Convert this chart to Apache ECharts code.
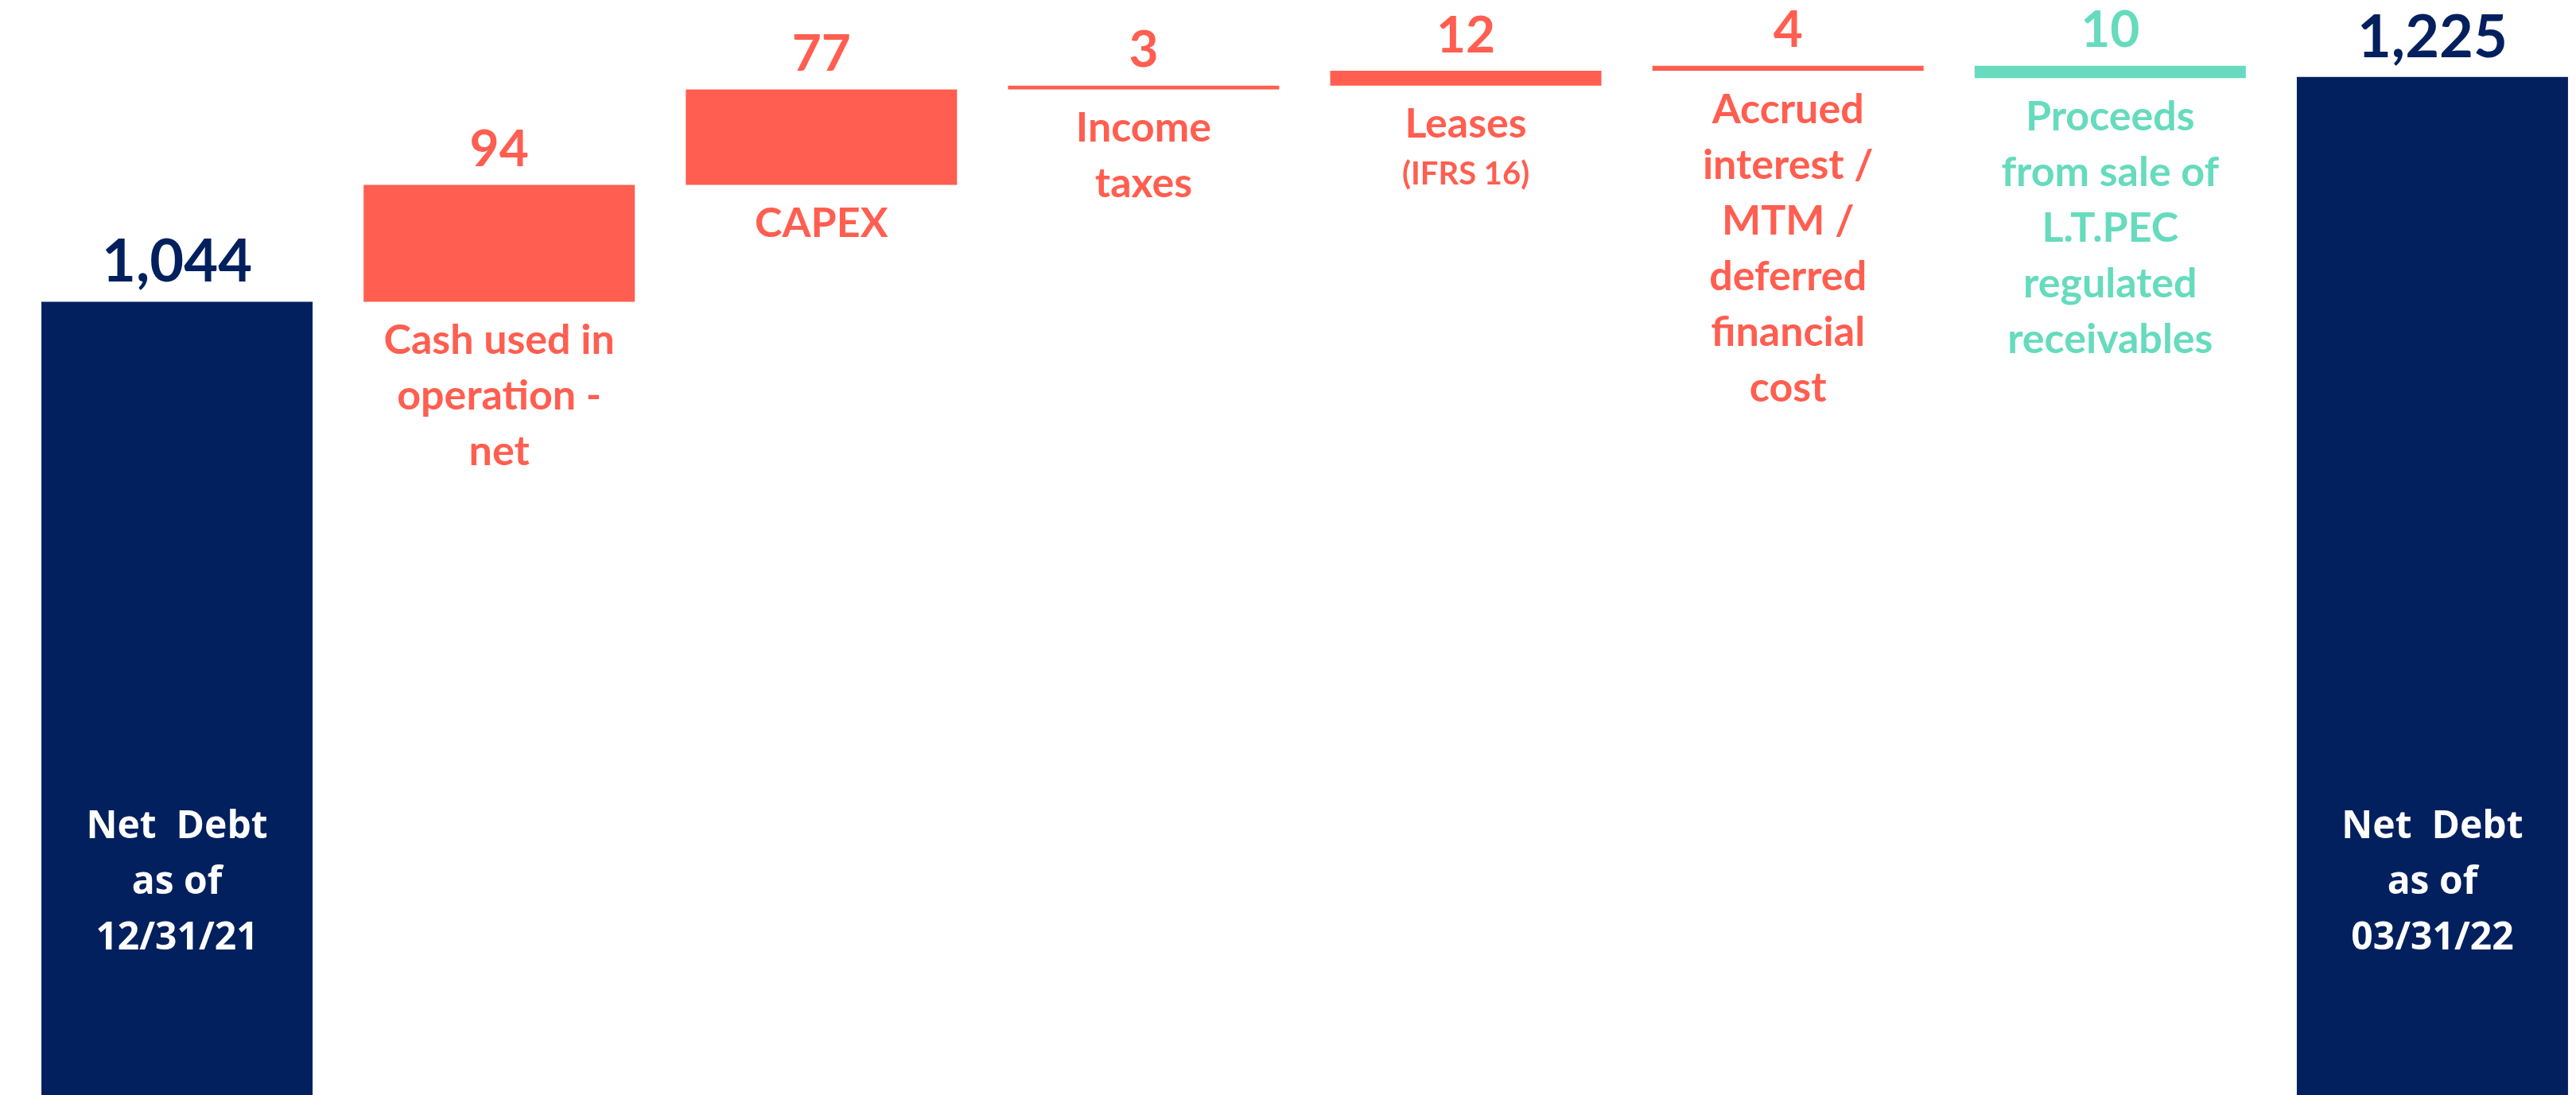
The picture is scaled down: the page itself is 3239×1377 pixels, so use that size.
<!DOCTYPE html>
<html>
<head>
<meta charset="utf-8">
<script src="https://cdn.jsdelivr.net/npm/echarts@6/dist/echarts.min.js"></script>
<style>
  html, body { margin: 0; padding: 0; background: #fff; overflow: hidden; }
  /* last bar band runs past the right edge of the slide */
  #chart { width: 3261px; height: 1377px; }
</style>
</head>
<body>
<div id="chart"></div>
<script>
// waterfall data (net debt bridge)
const categories = [
  'Net Debt as of 12/31/21',
  'Cash used in operation - net',
  'CAPEX',
  'Income taxes',
  'Leases (IFRS 16)',
  'Accrued interest / MTM / deferred financial cost',
  'Proceeds from sale of L.T.PEC regulated receivables',
  'Net Debt as of 03/31/22'
];
const startDebt = 1044;
const endDebt = 1225;
// positive = debt goes up, negative = debt goes down
const changes = [94, 77, 3, 12, 4, -10];
const changeLabels = [
  'Cash used in\noperation -\nnet',
  'CAPEX',
  'Income\ntaxes',
  'Leases\n{s|(IFRS 16)}',
  'Accrued\ninterest /\nMTM /\ndeferred\nfinancial\ncost',
  'Proceeds\nfrom sale of\nL.T.PEC\nregulated\nreceivables'
];
const totalLabels = ['Net  Debt\nas of\n12/31/21', 'Net  Debt\nas of\n03/31/22'];

const NAVY = '#02205E';
const RED = '#FF5E50';
const GREEN = '#66DBBD';

// build stacked waterfall arrays
const totals = [startDebt];
const base = ['-'];
const delta = ['-'];
let running = startDebt;
changes.forEach(c => {
  totals.push('-');
  base.push(c > 0 ? running : running + c);
  delta.push({ value: Math.abs(c), itemStyle: { color: c > 0 ? RED : GREEN } });
  running += c;
});
totals.push(endDebt);
base.push('-');
delta.push('-');

const colorOf = i => (changes[i - 1] > 0 ? RED : GREEN);

const chart = echarts.init(document.getElementById('chart'));

const option = {
  animation: false,
  backgroundColor: '#fff',
  grid: { left: 20, right: 0, top: 0, bottom: 0 },
  xAxis: {
    type: 'category',
    data: categories,
    show: false
  },
  yAxis: {
    type: 'value',
    min: 405,
    max: 1287,
    show: false
  },
  series: [
    {
      name: 'total',
      type: 'bar',
      barWidth: 341,
      barGap: '-100%',
      data: totals,
      itemStyle: { color: NAVY },
      label: {
        show: true,
        position: 'top',
        distance: 12,
        color: NAVY,
        fontFamily: 'Lato',
        fontWeight: 'bold',
        fontSize: 74,
        formatter: p => p.value.toLocaleString('en-US')
      }
    },
    {
      name: 'totalText',
      type: 'bar',
      barWidth: 341,
      barGap: '-100%',
      data: totals,
      itemStyle: { color: 'rgba(0,0,0,0)' },
      label: {
        show: true,
        position: 'insideBottom',
        distance: 162,
        color: '#fff',
        fontFamily: 'Open Sans',
        fontWeight: 'bold',
        fontSize: 48,
        lineHeight: 70,
        align: 'center',
        formatter: p => totalLabels[p.dataIndex === 0 ? 0 : 1]
      }
    },
    {
      name: 'base',
      type: 'bar',
      stack: 'wf',
      barWidth: 341,
      barGap: '-100%',
      data: base,
      itemStyle: { color: 'rgba(0,0,0,0)' },
      label: {
        show: true,
        position: 'insideTop',
        distance: 14,
        fontFamily: 'Lato',
        fontWeight: 'bold',
        fontSize: 52,
        lineHeight: 70,
        align: 'center',
        formatter: p => changeLabels[p.dataIndex - 1],
        rich: {
          s: { fontFamily: 'Lato', fontWeight: 'bold', fontSize: 40, lineHeight: 54, color: RED }
        }
      }
    },
    {
      name: 'change',
      type: 'bar',
      stack: 'wf',
      barWidth: 341,
      barGap: '-100%',
      data: delta,
      label: {
        show: true,
        position: 'top',
        distance: 12,
        fontFamily: 'Lato',
        fontWeight: 'bold',
        fontSize: 64
      }
    }
  ]
};

// label colour per item
option.series[2].data = base.map((v, i) => v === '-' ? v : {
  value: v,
  label: { color: colorOf(i) }
});
option.series[3].data = delta.map((d, i) => d === '-' ? d : Object.assign({}, d, {
  label: { color: colorOf(i) }
}));

chart.setOption(option);
window.addEventListener('resize', () => chart.resize());
</script>
</body>
</html>
